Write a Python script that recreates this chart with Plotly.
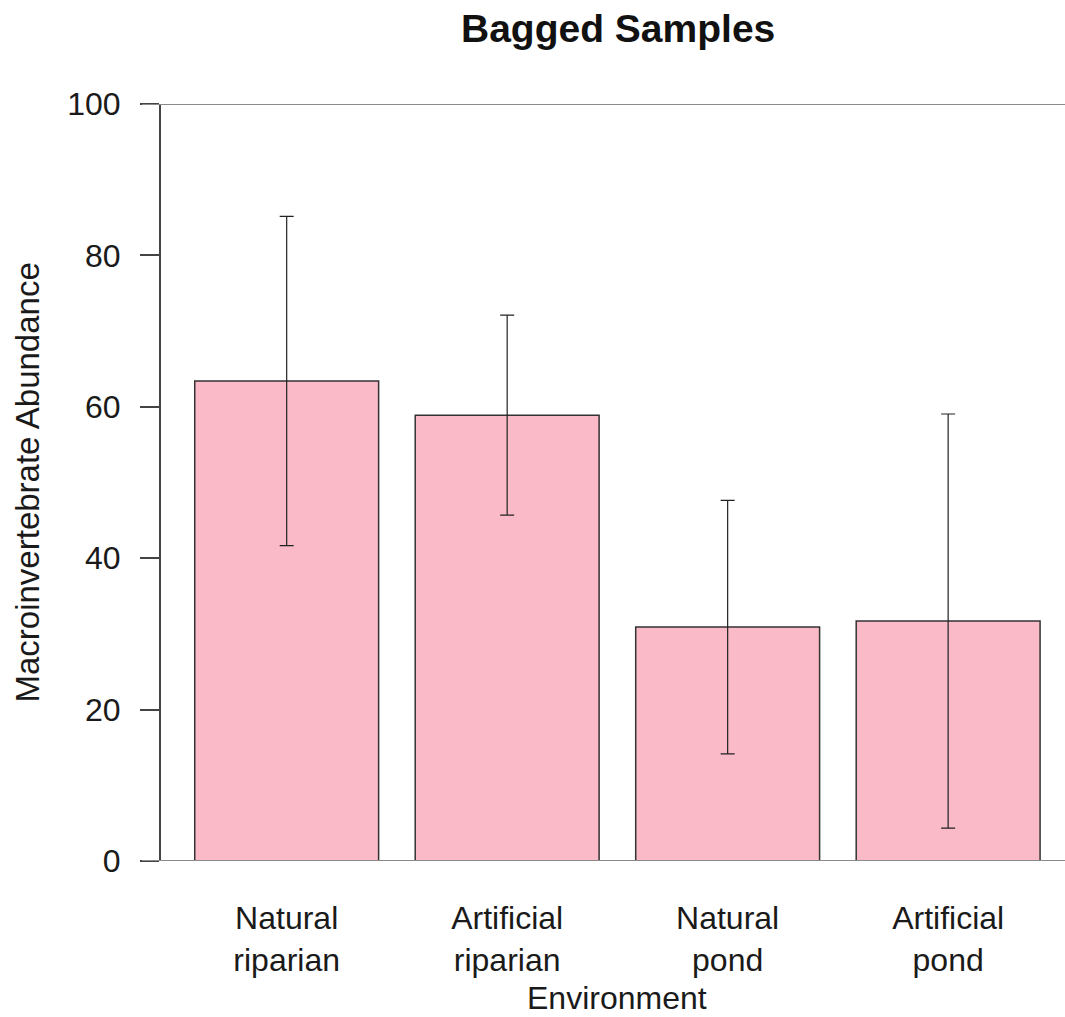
import plotly.graph_objects as go

# Mean macroinvertebrate abundance per environment, with symmetric error bars
environments = ["Natural<br>riparian", "Artificial<br>riparian", "Natural<br>pond", "Artificial<br>pond"]
mean_abundance = [63.4, 58.9, 30.9, 31.7]
error_half_width = [21.75, 13.2, 16.75, 27.35]
y_ticks = [0, 20, 40, 60, 80, 100]

W, H = 1065, 1017
ML, MR, MT, MB = 161, 0, 103.5, 156
plot_w = W - ML - MR
tick_len = 19
font_family = "Liberation Sans, Arial, Helvetica, sans-serif"
text_color = "#1a1a1a"

fig = go.Figure()
fig.add_trace(go.Bar(
    x=environments,
    y=mean_abundance,
    marker=dict(color="#FABAC7", line=dict(color="#333333", width=1.5)),
    error_y=dict(type="data", array=error_half_width, visible=True,
                 color="#222222", thickness=1.2, width=7),
    showlegend=False,
))

# Reference lines at 0 and 100 running from the tick marks across the panel
for level in (y_ticks[0], y_ticks[-1]):
    fig.add_shape(type="line", xref="paper", yref="y",
                  x0=-tick_len / plot_w, x1=1, y0=level, y1=level,
                  line=dict(color="#8a8a8a", width=2.2), layer="above")

fig.update_layout(
    width=W, height=H,
    margin=dict(l=ML, r=MR, t=MT, b=MB, pad=0),
    paper_bgcolor="white", plot_bgcolor="white",
    bargap=0.166,
    font=dict(family=font_family, size=32, color=text_color),
    xaxis=dict(
        type="category",
        range=[-0.570, 3.530],
        showline=False, showgrid=False, zeroline=False,
        ticks="", ticklabelstandoff=35,
        tickfont=dict(size=32),
    ),
    yaxis=dict(
        range=[0, 100],
        tickvals=y_ticks,
        showline=True, linecolor="#444444", linewidth=2,
        ticks="outside", ticklen=tick_len, tickwidth=2, tickcolor="#444444",
        ticklabelstandoff=13,
        showgrid=False, zeroline=False,
        tickfont=dict(size=32),
    ),
    annotations=[
        dict(text="<b>Bagged Samples</b>", xref="paper", yref="paper",
             x=(618 - ML) / plot_w, y=1 + (MT - 28) / (H - MT - MB),
             xanchor="center", yanchor="middle", showarrow=False,
             font=dict(size=39, color="#111111")),
        dict(text="Macroinvertebrate Abundance", xref="paper", yref="paper",
             x=(27 - ML) / plot_w, y=0.5, textangle=-90,
             xanchor="center", yanchor="middle", showarrow=False,
             font=dict(size=33)),
        dict(text="Environment", xref="x", yref="paper",
             x=1.5, y=-(998 - (H - MB)) / (H - MT - MB),
             xanchor="center", yanchor="middle", showarrow=False,
             font=dict(size=32)),
    ],
)

fig.write_html("out.html")
